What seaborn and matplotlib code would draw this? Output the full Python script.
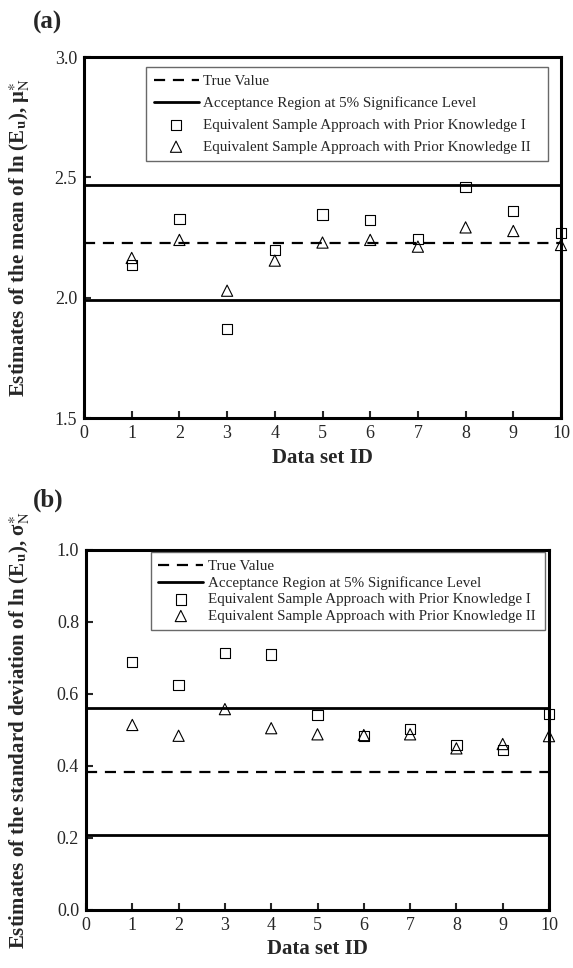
import numpy as np
import pandas as pd
import seaborn as sns
import matplotlib.pyplot as plt

# values
data_ids = [1, 2, 3, 4, 5, 6, 7, 8, 9, 10]

# (a) mean of ln(Eu)
mean_true = 2.229
mean_accept = [1.990, 2.468]
mean_pk1 = [2.136, 2.327, 1.869, 2.198, 2.345, 2.324, 2.243, 2.459, 2.360, 2.270]
mean_pk2 = [2.165, 2.240, 2.029, 2.154, 2.229, 2.240, 2.212, 2.292, 2.277, 2.219]

# (b) standard deviation of ln(Eu)
std_true = 0.384
std_accept = [0.208, 0.560]
std_pk1 = [0.688, 0.625, 0.713, 0.710, 0.542, 0.484, 0.503, 0.458, 0.444, 0.544]
std_pk2 = [0.514, 0.484, 0.558, 0.505, 0.488, 0.486, 0.488, 0.449, 0.461, 0.483]

labels = ["True Value",
          "Acceptance Region at 5% Significance Level",
          "Equivalent Sample Approach with Prior Knowledge I",
          "Equivalent Sample Approach with Prior Knowledge II"]

sns.set_style("ticks")
plt.rcParams["font.family"] = ["Liberation Serif", "DejaVu Serif"]
plt.rcParams["mathtext.fontset"] = "stix"

fig = plt.figure(figsize=(5.73, 9.68), dpi=100)
ax_a = fig.add_axes([84 / 573, 1 - 418 / 968, 477 / 573, 361 / 968])
ax_b = fig.add_axes([86 / 573, 1 - 910 / 968, 463 / 573, 360 / 968])


def draw_panel(ax, true_val, accept, pk1, pk2, ylim, yticks, ylabel, leg_box, spacing, bpad, lab_x):
    ax.axhline(true_val, color="black", ls=(0, (5, 3.5)), lw=1.6, label=labels[0])
    ax.axhline(accept[0], color="black", lw=2.0, label=labels[1])
    ax.axhline(accept[1], color="black", lw=2.0)
    df = pd.DataFrame({"id": data_ids, "pk1": pk1, "pk2": pk2})
    sns.scatterplot(data=df, x="id", y="pk1", marker="s", s=55, facecolor="none",
                    edgecolor="black", linewidth=0.8, label=labels[2], ax=ax,
                    clip_on=False, zorder=5)
    sns.scatterplot(data=df, x="id", y="pk2", marker="^", s=65, facecolor="none",
                    edgecolor="black", linewidth=0.8, label=labels[3], ax=ax,
                    clip_on=False, zorder=5)
    ax.set_xlim(0, 10)
    ax.set_ylim(*ylim)
    ax.set_xticks(range(0, 11))
    ax.set_yticks(yticks)
    ax.set_yticklabels([f"{t:.1f}" for t in yticks])
    ax.tick_params(direction="in", length=5, width=1.5, labelsize=13,
                   top=False, right=False, pad=5)
    for sp in ax.spines.values():
        sp.set_linewidth(2.2)
        sp.set_color("black")
    ax.set_xlabel("Data set ID", fontsize=15, fontweight="bold", labelpad=4)
    ax.set_ylabel(ylabel, fontsize=15, fontweight="bold")
    ax.yaxis.set_label_coords(lab_x, 0.5)
    leg = ax.legend(loc="upper left", bbox_to_anchor=leg_box, mode="expand",
                    fontsize=10.8, frameon=True, fancybox=False, handlelength=3.0,
                    handletextpad=0.3, borderpad=bpad, borderaxespad=0,
                    labelspacing=spacing)
    leg.get_frame().set_edgecolor("#444444")
    leg.get_frame().set_linewidth(1.0)


draw_panel(ax_a, mean_true, mean_accept, mean_pk1, mean_pk2, (1.5, 3.0),
           [1.5, 2.0, 2.5, 3.0],
           r"Estimates of the mean of ln (E$_{\mathbf{u}}$), μ$_{\mathrm{N}}^{\ast}$",
           (0.13, 0.972, 0.843, 0.0), 0.55, 0.5, -0.108)
draw_panel(ax_b, std_true, std_accept, std_pk1, std_pk2, (0.0, 1.0),
           [0.0, 0.2, 0.4, 0.6, 0.8, 1.0],
           r"Estimates of the standard deviation of ln (E$_{\mathbf{u}}$), σ$_{\mathrm{N}}^{\ast}$",
           (0.14, 0.994, 0.851, 0.0), 0.2, 0.5, -0.116)

fig.text(33 / 573, 1 - 22 / 968, "(a)", fontsize=18, fontweight="bold", va="center")
fig.text(33 / 573, 1 - 500 / 968, "(b)", fontsize=18, fontweight="bold", va="center")

fig.savefig("out.png", dpi=100)
